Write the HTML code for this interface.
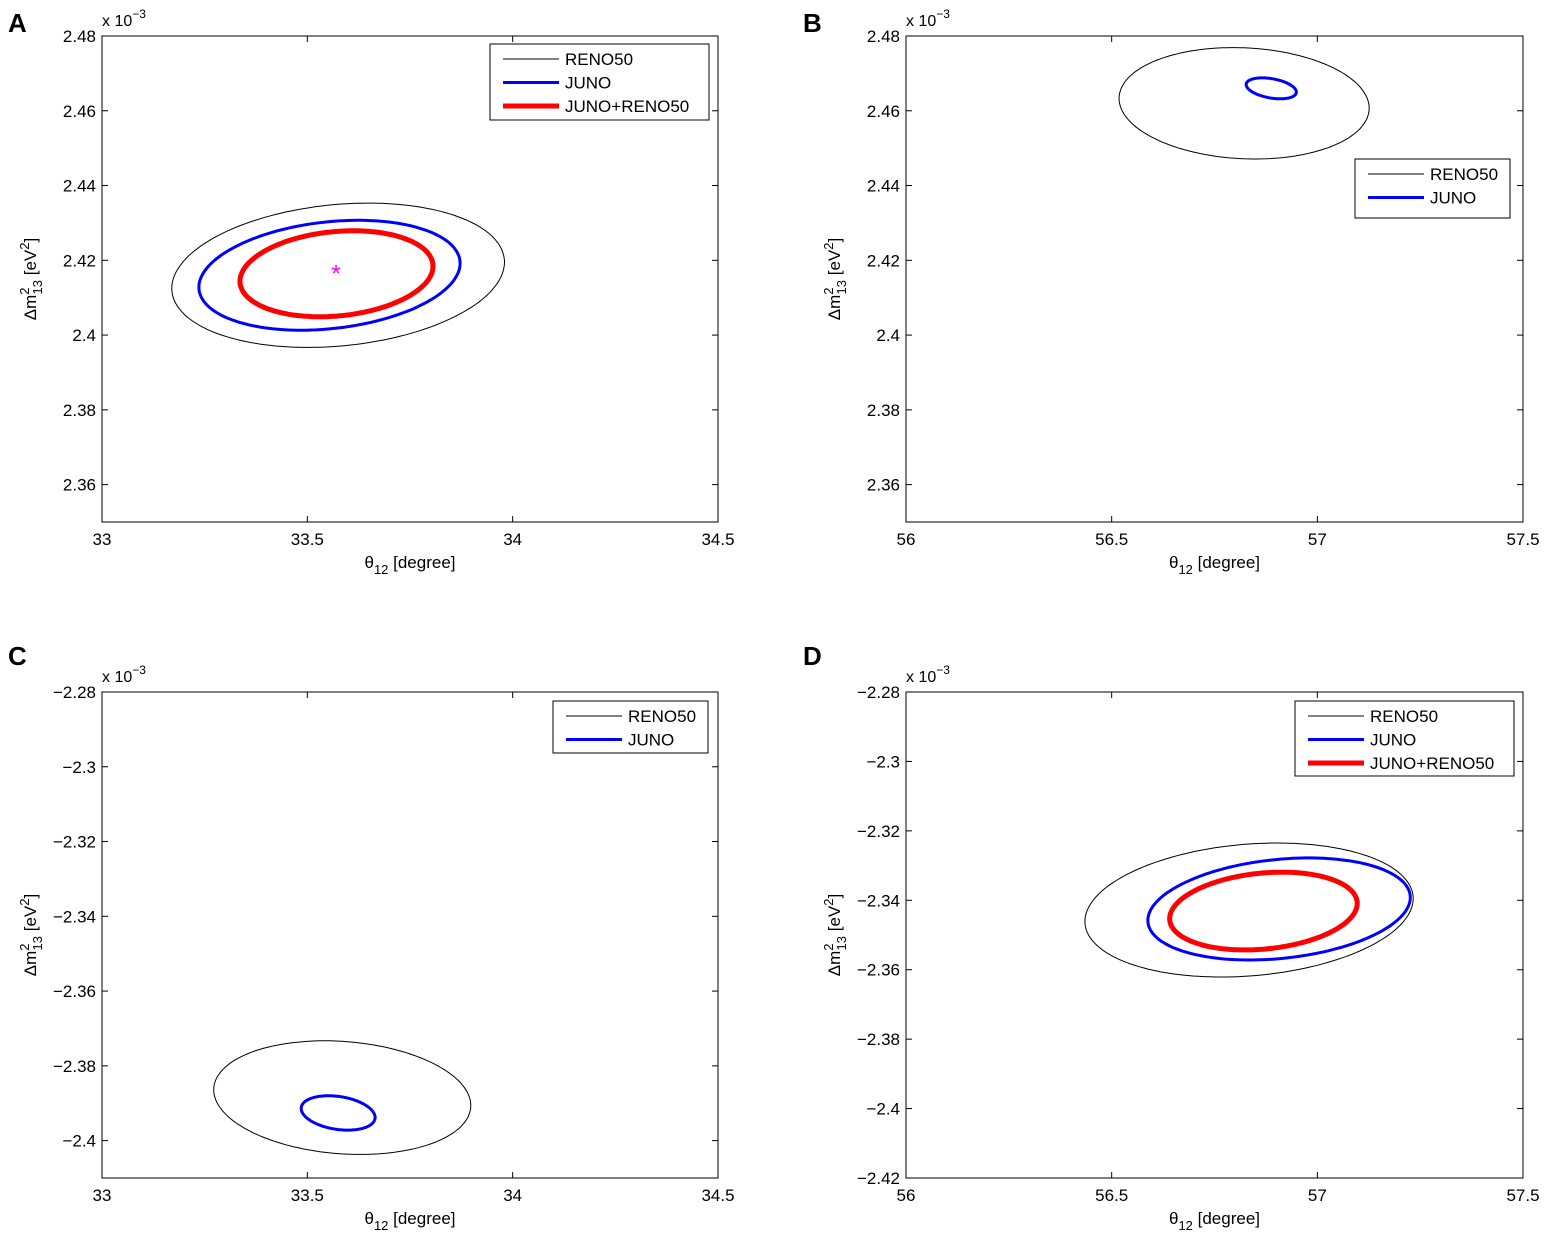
<!DOCTYPE html>
<html><head><meta charset="utf-8"><style>
body{margin:0;background:#fff}
svg{display:block;font-family:"Liberation Sans",Arial,sans-serif}
</style></head><body>
<svg id="fig" width="1547" height="1240" viewBox="0 0 1547 1240"></svg>
<script>
// Panel axis ranges
const panelLetters = ["A","B","C","D"];
const xRanges = [[33,34.5],[56,57.5],[33,34.5],[56,57.5]];
const yRanges = [[2.35,2.48],[2.35,2.48],[-2.41,-2.28],[-2.42,-2.28]];
const xTicks = [[33,33.5,34,34.5],[56,56.5,57,57.5],[33,33.5,34,34.5],[56,56.5,57,57.5]];
const yTicks = [[2.36,2.38,2.4,2.42,2.44,2.46,2.48],[2.36,2.38,2.4,2.42,2.44,2.46,2.48],
  [-2.4,-2.38,-2.36,-2.34,-2.32,-2.3,-2.28],[-2.42,-2.4,-2.38,-2.36,-2.34,-2.32,-2.3,-2.28]];
const yTickLabels = [["2.36","2.38","2.4","2.42","2.44","2.46","2.48"],["2.36","2.38","2.4","2.42","2.44","2.46","2.48"],
  ["\u22122.4","\u22122.38","\u22122.36","\u22122.34","\u22122.32","\u22122.3","\u22122.28"],
  ["\u22122.42","\u22122.4","\u22122.38","\u22122.36","\u22122.34","\u22122.32","\u22122.3","\u22122.28"]];
// Contours: [panel, series, cx, cy, halfWidth, halfHeight, shear]
const contourPanel  = [0,0,0, 1,1, 2,2, 3,3,3];
const contourSeries = [0,1,2, 0,1, 0,1, 0,1,2];
const contourCx = [33.575,33.554,33.571, 56.822,56.888, 33.585,33.575, 56.834,56.907,56.869];
const contourCy = [2.416,2.416,2.4164, 2.462,2.466, -2.3885,-2.3926, -2.3428,-2.3425,-2.3431];
const contourAx = [0.405,0.318,0.235, 0.304,0.061, 0.313,0.09, 0.399,0.319,0.228];
const contourHalfY = [0.0193,0.0147,0.0115, 0.0149,0.0028, 0.0152,0.0046, 0.0193,0.0147,0.0112];
const contourShear = [0.0035,0.0032,0.002, -0.0013,-0.001, -0.0021,-0.0012, 0.0033,0.0033,0.0022];
const seriesNames = ["RENO50","JUNO","JUNO+RENO50"];
const legendSeries = [[0,1,2],[0,1],[0,1],[0,1,2]];
const bestFit = [33.57, 2.417];

const seriesColor=["#000","#0000ff","#ff0000"], seriesWidth=[1,3,5];
const boxes=[[102,36,718,522],[906,36,1523,522],[102,692,718,1178],[906,692,1523,1178]];
const legBoxes=[[490,44,709,120],[1355,159,1510,218],[553,701,708,753],[1295,701,1514,776]];
const letterY=[32,32,665,665];
const svg=document.getElementById('fig'), NS='http://www.w3.org/2000/svg';
function mk(t,a,p){const e=document.createElementNS(NS,t);for(const k in a)e.setAttribute(k,a[k]);(p||svg).appendChild(e);return e;}
function txt(s,a,p){const e=mk('text',a,p);e.textContent=s;return e;}
const sx=(i,v)=>{const[x0,,x1]=boxes[i];return x0+(v-xRanges[i][0])/(xRanges[i][1]-xRanges[i][0])*(x1-x0);};
const sy=(i,v)=>{const[,y0,,y1]=boxes[i];return y1-(v-yRanges[i][0])/(yRanges[i][1]-yRanges[i][0])*(y1-y0);};
for(let i=0;i<4;i++){
  const[x0,y0,x1,y1]=boxes[i];
  const g=mk('g',{});
  
  
  const fr=mk('rect',{x:x0,y:y0,width:x1-x0,height:y1-y0,fill:'none',stroke:'#000','stroke-width':1},g);
  
  
  xTicks[i].forEach(v=>{const X=sx(i,v);
    mk('line',{x1:X,x2:X,y1:y1,y2:y1-6,stroke:'#000'},g);mk('line',{x1:X,x2:X,y1:y0,y2:y0+6,stroke:'#000'},g);
    const t=txt(String(v),{x:X,y:y1+23,'text-anchor':'middle','font-size':17},g);
    
    });
  yTicks[i].forEach((v,k)=>{const Y=sy(i,v);
    mk('line',{x1:x0,x2:x0+6,y1:Y,y2:Y,stroke:'#000'},g);mk('line',{x1:x1,x2:x1-6,y1:Y,y2:Y,stroke:'#000'},g);
    const t=txt(yTickLabels[i][k],{x:x0-6,y:Y+6,'text-anchor':'end','font-size':17},g);
    
    });
  const ex=txt('',{x:x0,y:y0-10,'font-size':16},g);
  ex.innerHTML='x 10<tspan dy="-8" font-size="12">\u22123</tspan>';
  
  
  const xt=txt('',{x:(x0+x1)/2,y:y1+46,'text-anchor':'middle','font-size':17},g);
  xt.innerHTML='\u03b8<tspan dy="6" font-size="13">12</tspan><tspan dy="-6"> [degree]</tspan>';
  
  
  const cy=(y0+y1)/2, yt=txt('',{x:0,y:0,'text-anchor':'middle','font-size':17,transform:`translate(${x0-66},${cy}) rotate(-90)`},g);
  yt.innerHTML='\u0394m<tspan dy="-7" font-size="13">2</tspan><tspan dx="-7" dy="13" font-size="13">13</tspan><tspan dy="-6"> [eV</tspan><tspan dy="-7" font-size="13">2</tspan><tspan dy="7">]</tspan>';
  
  
  const L=txt(panelLetters[i],{x:i%2?803:8,y:letterY[i],'font-size':26,'font-weight':'bold'},g);
  
  
}
for(let c=0;c<contourCx.length;c++){
  const i=contourPanel[c],s=contourSeries[c];
  const by=Math.sqrt(Math.max(contourHalfY[c]**2-contourShear[c]**2,1e-10));
  let d='';
  for(let k=0;k<=180;k++){const t=k/180*2*Math.PI;
    const X=sx(i,contourCx[c]+contourAx[c]*Math.cos(t)), Y=sy(i,contourCy[c]+by*Math.sin(t)+contourShear[c]*Math.cos(t));
    d+=(k?'L':'M')+X.toFixed(1)+' '+Y.toFixed(1);}
  const p=mk('path',{d:d+'Z',fill:'none',stroke:seriesColor[s],'stroke-width':seriesWidth[s]});
  
  
}
const st=txt('*',{x:sx(0,bestFit[0]),y:sy(0,bestFit[1])+10,'text-anchor':'middle','font-size':24,fill:'#ff00ff'});


for(let i=0;i<4;i++){
  const[a,b,c,d]=legBoxes[i];
  const g=mk('g',{});
  
  
  mk('rect',{x:a,y:b,width:c-a,height:d-b,fill:'#fff',stroke:'#000'},g);
  legendSeries[i].forEach((s,k)=>{const Y=b+15+k*23.5;
    const e=mk('g',{},g);
    
    
    mk('line',{x1:a+13,x2:a+69,y1:Y,y2:Y,stroke:seriesColor[s],'stroke-width':seriesWidth[s]},e);
    txt(seriesNames[s],{x:a+75,y:Y+6,'font-size':17},e);});
}
</script>
</body></html>
